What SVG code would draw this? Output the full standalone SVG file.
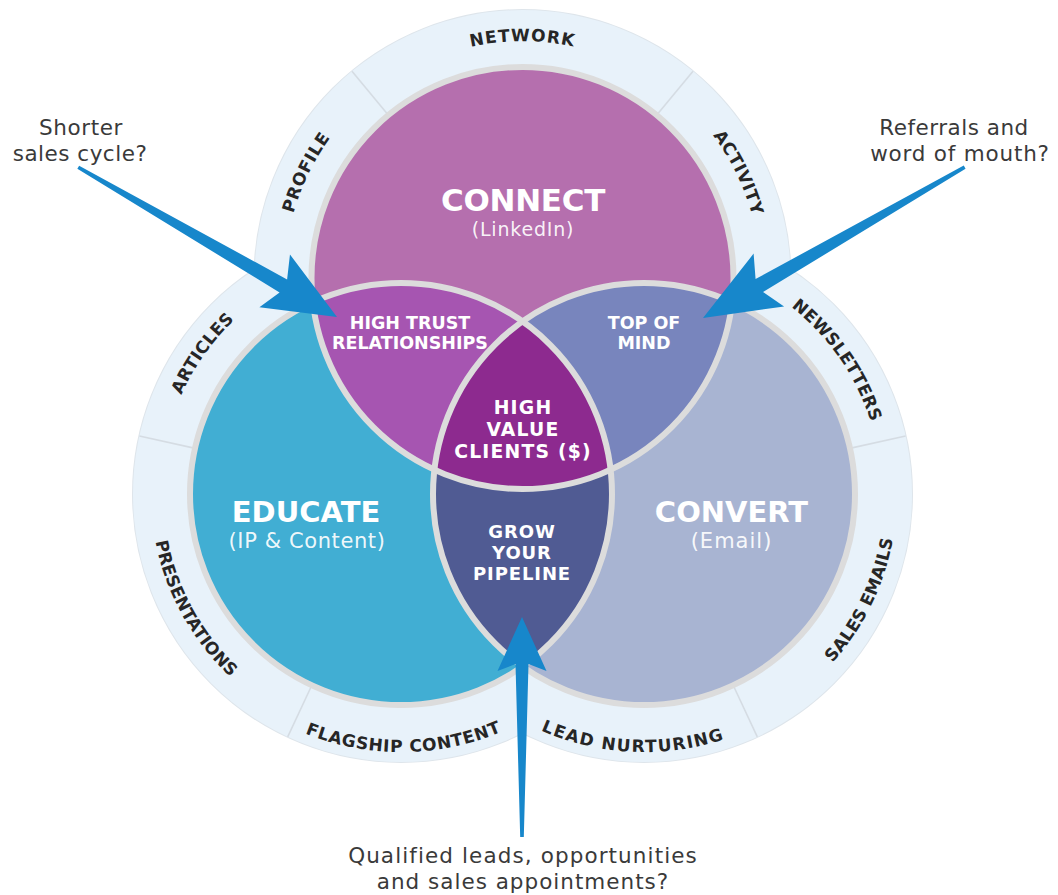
<svg xmlns="http://www.w3.org/2000/svg" xmlns:xlink="http://www.w3.org/1999/xlink" width="1058" height="895" viewBox="0 0 1058 895">
<style>
.ring{fill:#e8f2fa}
.ringEdge{fill:none;stroke:#dee5eb;stroke-width:2}
.div{stroke:#d5dce3;stroke-width:1.6}
.rl{font-family:"DejaVu Sans",sans-serif;font-weight:bold;font-size:17px;fill:#262626;text-anchor:middle}
.edge{fill:none;stroke:#dcdcdc;stroke-width:6}
.big{font-family:"DejaVu Sans",sans-serif;font-weight:bold;fill:#ffffff;text-anchor:middle}
.sub{font-family:"DejaVu Sans",sans-serif;font-weight:normal;fill:#ffffff;fill-opacity:0.93;text-anchor:middle}
.q{font-family:"DejaVu Sans",sans-serif;font-size:21.5px;fill:#3a3a3a;text-anchor:middle}
.arrow{fill:#1787cb}
</style>
<defs>
<clipPath id="clipL"><circle cx="401" cy="494" r="211"/></clipPath>
<clipPath id="clipR"><circle cx="644" cy="494" r="211"/></clipPath>
<path id="pNetwork" d="M 317.3 159.5 A 237 237 0 0 1 727.7 159.5"/>
<path id="pProfile" d="M 325.2 411.1 A 238 238 0 0 1 505.9 40.6"/>
<path id="pActivity" d="M 539.1 40.6 A 238 238 0 0 1 719.8 411.1"/>
<path id="pArticles" d="M 182.1 594.7 A 241 241 0 0 1 423.3 254.0"/>
<path id="pPresent" d="M 186.7 365.2 A 250 250 0 0 0 396.6 744.0"/>
<path id="pFlag" d="M 178.9 625.3 A 258 258 0 0 0 625.8 620.7"/>
<path id="pNews" d="M 624.5 256.8 A 238 238 0 0 1 859.2 595.7"/>
<path id="pSales" d="M 661.7 746.4 A 253 253 0 0 0 853.7 352.5"/>
<path id="pLead" d="M 414.9 612.7 A 258 258 0 0 0 861.4 633.0"/>
</defs>

<rect width="1058" height="895" fill="#ffffff"/>

<g id="outer-ring">
<circle class="ringEdge" cx="522.5" cy="278" r="268"/>
<circle class="ringEdge" cx="401" cy="494" r="268"/>
<circle class="ringEdge" cx="644" cy="494" r="268"/>
<circle class="ring" cx="522.5" cy="278" r="268"/>
<circle class="ring" cx="401" cy="494" r="268"/>
<circle class="ring" cx="644" cy="494" r="268"/>
<line class="div" x1="387" y1="113.6" x2="352" y2="71.2"/>
<line class="div" x1="658" y1="113.6" x2="693" y2="71.2"/>
<line class="div" x1="193" y1="447.9" x2="139.4" y2="436"/>
<line class="div" x1="311" y1="687" x2="287.7" y2="736.9"/>
<line class="div" x1="852" y1="447.9" x2="905.6" y2="436"/>
<line class="div" x1="734" y1="687" x2="757.3" y2="736.9"/>
</g>

<g id="ring-labels">
<text class="rl" letter-spacing="1"><textPath href="#pNetwork" xlink:href="#pNetwork" startOffset="50%">NETWORK</textPath></text>
<text class="rl" letter-spacing="0.7"><textPath href="#pProfile" xlink:href="#pProfile" startOffset="50%">PROFILE</textPath></text>
<text class="rl" letter-spacing="0.4"><textPath href="#pActivity" xlink:href="#pActivity" startOffset="50%">ACTIVITY</textPath></text>
<text class="rl" letter-spacing="0.3"><textPath href="#pArticles" xlink:href="#pArticles" startOffset="50%">ARTICLES</textPath></text>
<text class="rl" letter-spacing="0.1"><textPath href="#pPresent" xlink:href="#pPresent" startOffset="50%">PRESENTATIONS</textPath></text>
<text class="rl" letter-spacing="0.7"><textPath href="#pFlag" xlink:href="#pFlag" startOffset="50%">FLAGSHIP CONTENT</textPath></text>
<text class="rl" letter-spacing="0.2"><textPath href="#pNews" xlink:href="#pNews" startOffset="50%">NEWSLETTERS</textPath></text>
<text class="rl" letter-spacing="0.2"><textPath href="#pSales" xlink:href="#pSales" startOffset="50%">SALES EMAILS</textPath></text>
<text class="rl" letter-spacing="1.4"><textPath href="#pLead" xlink:href="#pLead" startOffset="50%">LEAD NURTURING</textPath></text>
</g>

<g id="educate">
<circle cx="401" cy="494" r="211" fill="#41aed3"/>
</g>
<g id="convert">
<circle cx="644" cy="494" r="211" fill="#a8b4d2"/>
</g>
<g id="grow-pipeline">
<circle cx="644" cy="494" r="211" fill="#505b93" clip-path="url(#clipL)"/>
</g>
<g id="connect">
<circle cx="522.5" cy="278" r="211" fill="#b56fae"/>
</g>
<g id="high-trust">
<circle cx="522.5" cy="278" r="211" fill="#a655b1" clip-path="url(#clipL)"/>
</g>
<g id="top-of-mind">
<circle cx="522.5" cy="278" r="211" fill="#7885bd" clip-path="url(#clipR)"/>
</g>
<g id="high-value">
<g clip-path="url(#clipL)">
<circle cx="522.5" cy="278" r="211" fill="#8d2a8f" clip-path="url(#clipR)"/>
</g>
</g>

<g id="circle-outlines">
<circle class="edge" cx="401" cy="494" r="211"/>
<circle class="edge" cx="644" cy="494" r="211"/>
<circle class="edge" cx="522.5" cy="278" r="211"/>
</g>

<g id="labels">
<text class="big" x="523" y="211" font-size="31" letter-spacing="-0.3">CONNECT</text>
<text class="sub" x="523" y="236" font-size="19" letter-spacing="0.8">(LinkedIn)</text>
<text class="big" x="306" y="522" font-size="29">EDUCATE</text>
<text class="sub" x="307" y="548" font-size="21" letter-spacing="0.6">(IP &amp; Content)</text>
<text class="big" x="731.5" y="522" font-size="29">CONVERT</text>
<text class="sub" x="731.5" y="548" font-size="21" letter-spacing="1">(Email)</text>
<text class="big" x="410" y="329" font-size="17.5">HIGH TRUST</text>
<text class="big" x="410" y="349" font-size="17.5">RELATIONSHIPS</text>
<text class="big" x="644" y="329" font-size="17.5">TOP OF</text>
<text class="big" x="644" y="349" font-size="17.5">MIND</text>
<text class="big" x="523" y="414" font-size="18.8" letter-spacing="1.2">HIGH</text>
<text class="big" x="523" y="436" font-size="18.8" letter-spacing="1.2">VALUE</text>
<text class="big" x="523" y="458" font-size="18.8" letter-spacing="1.2">CLIENTS ($)</text>
<text class="big" x="522" y="538" font-size="18" letter-spacing="0.9">GROW</text>
<text class="big" x="522" y="559" font-size="18" letter-spacing="0.9">YOUR</text>
<text class="big" x="522" y="580" font-size="18" letter-spacing="0.9">PIPELINE</text>
</g>

<g id="connectors">
<path class="arrow" transform="translate(337 317) rotate(30.07)" d="M0 0 L-72 -30.5 L-62 -7.5 L-299 -1.8 L-299 1.8 L-62 7.5 L-72 30.5 Z"/>
<path class="arrow" transform="translate(703 318) rotate(150.04)" d="M0 0 L-76 -30.5 L-65 -7.5 L-302 -1.8 L-302 1.8 L-65 7.5 L-76 30.5 Z"/>
<path class="arrow" transform="translate(522 617) rotate(-90)" d="M0 0 L-54 -24.5 L-47 -6.5 L-220 -1.8 L-220 1.8 L-47 6.5 L-54 24.5 Z"/>
</g>

<g id="question-left">
<text class="q" x="81" y="135" letter-spacing="0.6">Shorter</text>
<text class="q" x="80" y="160.5" letter-spacing="0.5">sales cycle?</text>
</g>
<g id="question-right">
<text class="q" x="954" y="135" letter-spacing="0.5">Referrals and</text>
<text class="q" x="960" y="160.5" letter-spacing="0.8">word of mouth?</text>
</g>
<g id="question-bottom">
<text class="q" x="523" y="863" font-size="22" letter-spacing="1.1">Qualified leads, opportunities</text>
<text class="q" x="523" y="889" font-size="22" letter-spacing="1">and sales appointments?</text>
</g>
</svg>
